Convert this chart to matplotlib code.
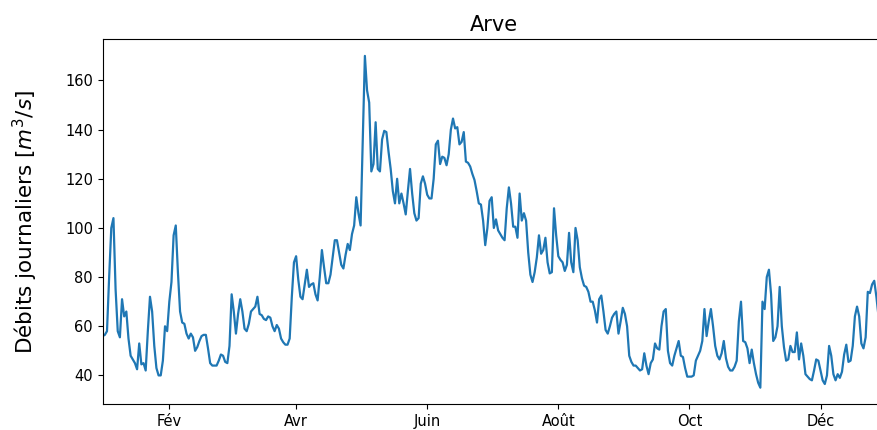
import numpy as np
import pandas as pd
import matplotlib
matplotlib.use('Agg')
import matplotlib.pyplot as plt

# debits journaliers moyens de l'Arve, du 1er janvier au 31 decembre
debits = [
    56, 56.5, 58, 80, 100, 104, 75, 58, 55.5, 71,
    64, 66, 55, 48, 46.5, 45, 42.5, 53, 44.5, 45,
    42, 58, 72, 66, 52, 43, 40, 40, 46, 60,
    58, 70, 78, 97, 101, 82, 66, 61.5, 61, 57,
    55, 57, 55.5, 50, 51.5, 54, 56, 56.5, 56.5, 51,
    45, 44, 44, 44, 46, 48.5, 48, 45.5, 45, 52,
    73, 66, 57, 65, 71, 66, 59, 58, 61, 66,
    67, 68, 72, 65, 64.5, 63, 62.5, 64, 63.5, 60,
    58, 60.5, 59, 55, 53.5, 52.5, 52.5, 55, 72, 86,
    88.5, 79, 72, 71, 77, 83, 76, 77, 77.5, 73,
    70.5, 80, 91, 84, 77.5, 77.5, 81, 88, 95, 95,
    90, 85, 83.5, 89, 93.5, 91, 97.5, 101, 112.5, 106,
    101, 136, 170, 156, 151, 123, 126, 143, 124, 123,
    136, 139.5, 139, 131, 124, 115, 110, 120, 110, 114,
    110, 105.5, 115, 124, 114, 106, 103, 104, 118, 121,
    118, 113.5, 112, 112, 120, 134, 135.5, 126, 129, 128.5,
    125.5, 130, 140, 144.5, 140.5, 141, 134, 135, 139, 127,
    126.5, 125, 122, 119.5, 115, 110, 109.5, 103, 93, 100,
    111, 112.5, 100, 103.5, 99, 97.5, 96, 95, 108, 116.5,
    110, 100.5, 100.5, 96, 114, 103, 106, 103, 90, 81,
    78, 82, 88, 97, 89.5, 91, 96, 86, 81.5, 82,
    108, 97, 88.5, 87, 86, 82.5, 85, 98, 86, 82,
    100, 95, 84, 79.5, 76.5, 76, 74, 70, 70, 66.5,
    61.5, 71, 72.5, 66, 58.5, 57, 60, 63.5, 65, 66,
    57, 62, 67.5, 65, 60, 48, 45.5, 44, 44, 43,
    42, 42.5, 49, 44, 40.5, 45, 46.5, 53, 51, 50.5,
    60, 66, 67, 50, 45, 44, 48, 51, 54, 48,
    47.5, 43, 39.5, 39.5, 39.5, 40, 46, 48, 50, 54,
    67, 56, 62, 67, 60, 52, 48, 46.5, 49, 54,
    47, 43.5, 42, 42, 43.5, 46, 62, 70, 54, 53.5,
    51, 45, 50.5, 45, 40.5, 37, 35, 70, 67, 80,
    83, 73, 54, 55.5, 60, 76, 60, 51.5, 46, 46.5,
    52, 49.5, 49.5, 57.5, 46.5, 53, 48, 40.5, 39.5, 38.5,
    38, 42, 46.5, 46, 42, 38, 36.5, 40, 52, 48,
    40.5, 38, 40.5, 39, 41.5, 48.5, 52.5, 45.5, 46, 52,
    64, 68, 64, 53, 51, 55.5, 74, 73.5, 77, 78.5,
    72, 64, 61, 60, 62,
]

mois_num = [2, 4, 6, 8, 10, 12]
mois_noms = ['Fév', 'Avr', 'Juin', 'Août', 'Oct', 'Déc']

jours = pd.date_range('2019-01-01', periods=len(debits), freq='D')
ticks = [pd.Timestamp(2019, m, 1) for m in mois_num]

fig = plt.figure(figsize=(8.77, 4.30), dpi=100)
ax = fig.add_axes([0.1171, 0.0598, 0.892, 0.8488])

ax.plot(jours, debits, color='#1f77b4', lw=1.6)
ax.set_xlim(jours[0], jours[-1])

ax.set_xticks(ticks)
ax.set_xticklabels(mois_noms)
ax.tick_params(labelsize=10.5)

ax.set_title('Arve', fontsize=15)
ax.set_ylabel('Débits journaliers [$m^3/s$]', fontsize=15.5, labelpad=18)

fig.savefig('out.png', dpi=100)
